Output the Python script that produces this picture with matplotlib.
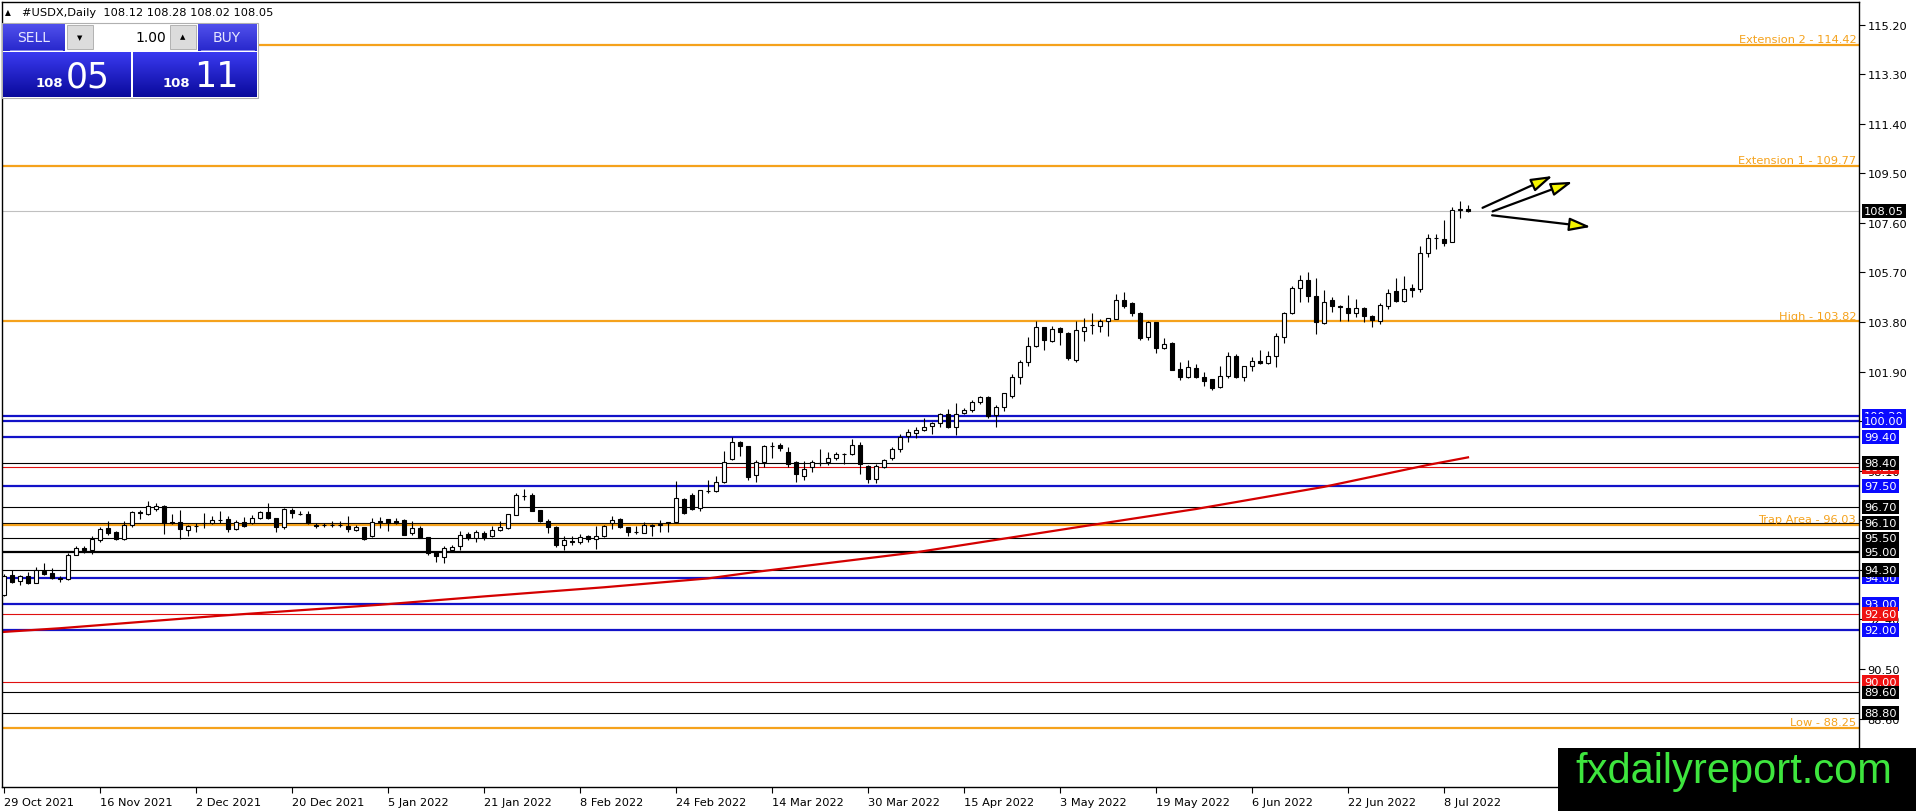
"""
#USDX daily chart with support / resistance levels, recreated in matplotlib.
"""
import numpy as np
import matplotlib
matplotlib.use("Agg")
import matplotlib.pyplot as plt
from matplotlib.patches import Rectangle, FancyArrowPatch
from matplotlib.transforms import blended_transform_factory

# ---- candles (one per trading day, 29 Oct 2021 .. 13 Jul 2022) ----
opens = [93.32, 94.10, 93.88, 94.05, 93.80, 94.27, 94.17, 94.00, 93.95, 94.88,
         95.15, 95.07, 95.45, 95.90, 95.75, 95.48, 96.00, 96.50, 96.45, 96.63,
         96.76, 96.12, 96.14, 95.84, 95.96, 96.10, 96.10, 96.20, 96.25, 95.86,
         96.14, 96.10, 96.30, 96.53, 96.27, 95.93, 96.60, 96.45, 96.45, 96.00,
         96.00, 96.03, 96.03, 95.99, 95.84, 95.93, 95.58, 96.17, 96.23, 96.17,
         96.22, 95.70, 95.92, 95.54, 94.97, 94.78, 95.07, 95.20, 95.67, 95.52,
         95.71, 95.58, 95.83, 95.90, 96.41, 97.14, 97.16, 96.59, 96.18, 95.95,
         95.26, 95.39, 95.35, 95.58, 95.48, 95.60, 96.08, 96.25, 95.93, 95.76,
         95.72, 95.97, 96.00, 96.12, 96.14, 97.01, 97.16, 96.66, 97.33, 97.33,
         97.65, 98.55, 99.19, 99.03, 97.93, 98.42, 99.03, 99.08, 98.82, 98.44,
         97.90, 98.23, 98.40, 98.42, 98.57, 98.74, 98.74, 99.08, 98.29, 97.78,
         98.25, 98.57, 98.93, 99.41, 99.54, 99.67, 99.82, 99.93, 100.27, 99.76,
         100.31, 100.44, 100.74, 100.91, 100.23, 100.53, 100.98, 101.68, 102.25, 102.89,
         103.59, 103.08, 103.57, 103.37, 102.35, 103.47, 103.69, 103.66, 103.83, 103.93,
         104.65, 104.51, 104.13, 103.22, 103.78, 102.79, 103.00, 101.99, 101.68, 102.02,
         101.68, 101.61, 101.29, 101.71, 102.48, 101.68, 102.10, 102.32, 102.23, 102.48,
         103.21, 104.13, 105.12, 105.42, 104.78, 103.76, 104.64, 104.40, 104.33, 104.14,
         104.33, 104.01, 103.85, 104.40, 104.99, 104.61, 105.10, 105.08, 106.44, 107.00,
         106.98, 106.88, 108.10, 108.12]
highs = [94.12, 94.29, 94.10, 94.20, 94.40, 94.55, 94.35, 94.05, 94.93, 95.20,
         95.20, 95.60, 95.95, 96.16, 95.80, 96.18, 96.55, 96.60, 96.92, 96.85,
         96.78, 96.44, 96.59, 96.00, 96.10, 96.46, 96.38, 96.55, 96.36, 96.20,
         96.34, 96.40, 96.57, 96.86, 96.30, 96.65, 96.66, 96.54, 96.54, 96.10,
         96.08, 96.16, 96.18, 96.36, 96.03, 95.95, 96.27, 96.34, 96.25, 96.27,
         96.25, 96.16, 95.98, 95.55, 95.00, 95.22, 95.25, 95.77, 95.73, 95.82,
         95.80, 95.96, 96.18, 96.45, 97.24, 97.40, 97.24, 96.60, 96.24, 95.97,
         95.60, 95.59, 95.67, 95.63, 95.97, 96.00, 96.37, 96.28, 95.95, 95.96,
         96.12, 96.06, 96.21, 96.14, 97.72, 97.04, 97.23, 97.37, 97.75, 97.88,
         98.84, 99.38, 99.25, 99.05, 98.52, 99.10, 99.21, 99.16, 98.99, 98.46,
         98.48, 98.50, 98.92, 98.80, 98.83, 98.77, 99.31, 99.21, 98.30, 98.36,
         98.55, 98.99, 99.50, 99.69, 99.76, 100.10, 99.98, 100.31, 100.46, 100.69,
         100.49, 100.82, 100.97, 100.97, 100.60, 101.08, 101.80, 102.35, 103.21, 103.85,
         103.62, 103.66, 103.62, 103.42, 103.85, 103.97, 104.14, 103.91, 103.96, 104.87,
         104.93, 104.58, 104.17, 103.85, 103.80, 103.17, 103.02, 102.25, 102.36, 102.19,
         101.87, 101.63, 102.10, 102.63, 102.57, 102.10, 102.44, 102.74, 102.70, 103.37,
         104.19, 105.19, 105.60, 105.70, 105.50, 105.04, 104.74, 104.45, 104.83, 104.68,
         104.36, 104.07, 104.52, 105.06, 105.47, 105.55, 105.26, 106.70, 107.17, 107.17,
         107.72, 108.19, 108.45, 108.28]
lows = [93.30, 93.79, 93.72, 93.75, 93.80, 94.10, 93.95, 93.85, 93.90, 94.85,
        94.95, 94.90, 95.37, 95.63, 95.45, 95.45, 95.95, 96.25, 96.40, 96.57,
        95.68, 96.05, 95.48, 95.60, 95.76, 95.90, 96.05, 96.10, 95.76, 95.84,
        95.95, 96.05, 96.25, 96.24, 95.76, 95.86, 96.27, 96.39, 96.05, 95.90,
        95.95, 95.95, 95.95, 95.74, 95.80, 95.45, 95.55, 95.90, 95.80, 96.05,
        95.62, 95.65, 95.50, 94.86, 94.58, 94.56, 95.03, 95.07, 95.44, 95.35,
        95.45, 95.55, 95.80, 95.87, 96.40, 96.97, 96.55, 96.15, 95.71, 95.18,
        95.05, 95.26, 95.30, 95.37, 95.10, 95.55, 95.86, 95.90, 95.60, 95.67,
        95.70, 95.60, 95.76, 95.76, 96.10, 96.45, 96.60, 96.56, 97.24, 97.27,
        97.62, 98.50, 98.68, 97.75, 97.65, 98.23, 98.57, 98.86, 98.23, 97.65,
        97.74, 98.06, 98.29, 98.31, 98.50, 98.35, 98.70, 97.97, 97.63, 97.63,
        98.22, 98.49, 98.80, 99.21, 99.34, 99.63, 99.50, 99.76, 99.73, 99.46,
        100.28, 100.36, 100.65, 100.10, 99.76, 100.40, 100.90, 101.42, 102.12, 102.85,
        102.73, 103.05, 102.93, 102.35, 102.28, 103.08, 103.34, 103.42, 103.27, 103.90,
        104.35, 104.04, 103.12, 103.12, 102.61, 102.75, 101.95, 101.59, 101.65, 101.66,
        101.36, 101.20, 101.27, 101.64, 101.66, 101.55, 101.93, 102.19, 102.19, 102.06,
        102.99, 104.10, 104.55, 104.58, 103.34, 103.74, 104.17, 103.85, 103.85, 103.98,
        103.81, 103.60, 103.72, 104.30, 104.55, 104.58, 104.74, 104.96, 106.28, 106.59,
        106.72, 106.85, 107.77, 108.02]
closes = [94.08, 93.85, 94.05, 93.80, 94.30, 94.15, 94.00, 93.95, 94.88, 95.15,
          95.05, 95.48, 95.87, 95.72, 95.47, 96.00, 96.50, 96.47, 96.76, 96.76,
          96.10, 96.10, 95.85, 95.97, 95.96, 96.08, 96.21, 96.22, 95.85, 96.12,
          95.99, 96.27, 96.50, 96.27, 95.93, 96.63, 96.47, 96.42, 96.08, 95.98,
          96.00, 96.02, 96.02, 95.86, 95.93, 95.48, 96.14, 96.15, 96.10, 96.10,
          95.65, 95.92, 95.52, 94.93, 94.82, 95.12, 95.19, 95.65, 95.52, 95.73,
          95.55, 95.82, 95.93, 96.43, 97.16, 97.14, 96.57, 96.18, 95.93, 95.26,
          95.45, 95.38, 95.54, 95.48, 95.60, 95.96, 96.20, 95.93, 95.76, 95.76,
          96.02, 96.00, 96.05, 96.10, 97.04, 96.46, 96.63, 97.36, 97.33, 97.65,
          98.45, 99.19, 99.03, 97.87, 98.44, 99.06, 99.03, 98.95, 98.35, 97.97,
          98.16, 98.42, 98.39, 98.57, 98.74, 98.74, 99.08, 98.35, 97.78, 98.27,
          98.49, 98.93, 99.40, 99.59, 99.67, 99.76, 99.92, 100.28, 99.76, 100.27,
          100.44, 100.74, 100.91, 100.21, 100.55, 101.07, 101.68, 102.28, 102.89, 103.59,
          103.12, 103.53, 103.40, 102.40, 103.50, 103.59, 103.69, 103.82, 103.94, 104.65,
          104.40, 104.13, 103.17, 103.81, 102.79, 102.95, 101.97, 101.68, 102.06, 101.68,
          101.55, 101.25, 101.71, 102.48, 101.68, 102.10, 102.32, 102.23, 102.48, 103.27,
          104.13, 105.12, 105.42, 104.78, 103.78, 104.55, 104.40, 104.39, 104.14, 104.33,
          104.04, 103.89, 104.45, 104.90, 104.61, 105.06, 105.04, 106.44, 107.00, 107.00,
          106.82, 108.10, 108.12, 108.05]

# date labels, one every 12 bars
date_labels = ["29 Oct 2021", "16 Nov 2021", "2 Dec 2021", "20 Dec 2021",
               "5 Jan 2022", "21 Jan 2022", "8 Feb 2022", "24 Feb 2022",
               "14 Mar 2022", "30 Mar 2022", "15 Apr 2022", "3 May 2022",
               "19 May 2022", "6 Jun 2022", "22 Jun 2022", "8 Jul 2022"]
price_ticks = [115.20, 113.30, 111.40, 109.50, 107.60, 105.70, 103.80, 101.90,
               100.00, 98.10, 96.20, 94.30, 92.40, 90.50, 88.60]

# ---- drawn levels ----
blue_levels = [100.20, 100.00, 99.40, 97.50, 94.00, 93.00, 92.00]
red_levels = [98.25, 92.60, 90.00]
black_levels = [98.40, 96.70, 96.10, 95.50, 95.00, 94.30, 89.60, 88.80]
orange_names = ["Extension 2", "Extension 1", "High", "Trap Area", "Low"]
orange_levels = [114.42, 109.77, 103.82, 96.03, 88.25]
last_price = 108.05

# red moving average line (bar index, value)
ma_bars = [0, 7, 27, 47, 60, 75, 88, 94, 114, 136, 149, 165, 178, 183]
ma_vals = [91.92, 92.06, 92.54, 92.96, 93.28, 93.63, 93.97, 94.22, 94.97,
           96.02, 96.63, 97.48, 98.32, 98.61]

# projection arrows: (start bar, start price, end bar, end price)
arrows = [(184.5, 108.13, 193.9, 109.44),
          (185.75, 108.00, 196.4, 109.21),
          (185.67, 107.90, 198.7, 107.43)]

BLUE = "#1212c8"
BLUE_BOX = "#0a0aff"
RED = "#e01010"
ORANGE = "#f5a21c"
FS = 8.2

W, H = 1916, 812
fig = plt.figure(figsize=(W / 100, H / 100), dpi=100)
fig.patch.set_facecolor("white")
ax = fig.add_axes([2 / W, 1 - 788 / H, 1857 / W, 785 / H])

n = len(closes)
x = np.arange(n)
o = np.array(opens)
c = np.array(closes)

# levels
for v in blue_levels:
    ax.axhline(v, color=BLUE, lw=1.6, zorder=1)
for v in red_levels:
    ax.axhline(v, color=RED, lw=0.8, zorder=1)
for v in black_levels:
    ax.axhline(v, color="black", lw=1.6 if v == 95.00 else 0.8, zorder=1)
for v in orange_levels:
    ax.axhline(v, color=ORANGE, lw=1.6, zorder=1)
ax.axhline(last_price, color="#c0c0c0", lw=0.8, zorder=1)

# moving average
ax.plot(ma_bars, ma_vals, color="#d40000", lw=1.6, zorder=2)

# candles
ax.vlines(x, lows, highs, color="black", lw=0.8, zorder=3)
fills = ["white" if cc >= oo else "black" for oo, cc in zip(o, c)]
ax.bar(x, np.abs(c - o), bottom=np.minimum(o, c), width=0.58, color=fills,
       edgecolor="black", linewidth=0.8, zorder=4)

# arrows
for x0, y0, x1, y1 in arrows:
    ar = FancyArrowPatch((x0, y0), (x1, y1),
                         arrowstyle="-|>,head_length=1.3,head_width=0.4",
                         mutation_scale=10, lw=1.6, ec="black", fc="#f4f400",
                         zorder=5)
    ax.add_patch(ar)

ax.set_xlim(-0.25, 231.875)
ax.set_ylim(85.975, 116.063)

# axes styling
for s in ax.spines.values():
    s.set_color("black")
    s.set_linewidth(1)
ax.yaxis.tick_right()
ax.set_yticks(price_ticks)
ax.set_yticklabels(["%.2f" % v for v in price_ticks])
ax.tick_params(axis="y", direction="out", length=4, width=0.8, pad=2,
               labelsize=FS, colors="black")
ax.set_xticks(range(0, 12 * len(date_labels), 12))
ax.set_xticklabels(date_labels)
ax.tick_params(axis="x", direction="out", length=4, width=0.8, pad=3,
               labelsize=FS)
for lbl in ax.get_xticklabels():
    lbl.set_horizontalalignment("left")

# orange level names
tr = blended_transform_factory(ax.transAxes, ax.transData)
for name, v in zip(orange_names, orange_levels):
    ax.text(0.9985, v + 0.11, "%s - %.2f" % (name, v), transform=tr,
            ha="right", va="baseline", fontsize=FS, color=ORANGE, zorder=6)

# price boxes on the right
def price_box(v, color):
    ax.text(1.0028, v, "%.2f" % v, transform=tr, ha="left", va="center",
            fontsize=FS, color="white", clip_on=False, zorder=7,
            bbox=dict(boxstyle="square,pad=0.16", fc=color, ec="none"))

for v in blue_levels:
    price_box(v, BLUE_BOX)
for v in red_levels:
    price_box(v, "#ee1111")
for v in black_levels:
    price_box(v, "black")
price_box(last_price, "black")

# ---- overlay in pixel coordinates: header, trade panel, watermark ----
ov = fig.add_axes([0, 0, 1, 1], zorder=10)
ov.set_xlim(0, W)
ov.set_ylim(H, 0)
ov.axis("off")
ov.patch.set_alpha(0)

ov.text(5, 13, "\u25B2", fontsize=5.5, va="center", ha="left")
ov.text(22, 13, "#USDX,Daily  108.12 108.28 108.02 108.05", fontsize=FS,
        va="center", ha="left")


def grad(x0, x1, y0, y1, top, bottom):
    t = np.array(matplotlib.colors.to_rgb(top))
    b = np.array(matplotlib.colors.to_rgb(bottom))
    k = np.linspace(0, 1, 40)[:, None]
    img = (t * (1 - k) + b * k)[:, None, :]
    ov.imshow(img, extent=(x0, x1, y1, y0), aspect="auto", origin="upper",
              interpolation="bilinear", zorder=1)


ov.add_patch(Rectangle((2, 24), 256, 75, fc="white", ec="#b0b0b0", lw=0.8,
                       zorder=0))
grad(3, 65, 25, 52, "#5050ec", "#2828cc")
grad(198, 257, 25, 52, "#5050ec", "#2828cc")
ov.plot([10, 62], [51, 51], color="#9a9af0", lw=0.6, zorder=2)
ov.plot([201, 254], [51, 51], color="#9a9af0", lw=0.6, zorder=2)
ov.text(34, 38, "SELL", fontsize=10, color="#e6e6ff", ha="center",
        va="center", zorder=3)
ov.text(227, 38, "BUY", fontsize=10, color="#e6e6ff", ha="center",
        va="center", zorder=3)
for bx in (67, 170):
    ov.add_patch(Rectangle((bx, 26), 26, 24, fc="#dcdcdc", ec="#a8a8a8",
                           lw=0.6, zorder=2))
ov.text(80, 38, "\u25BC", fontsize=5, ha="center", va="center", zorder=3)
ov.text(183, 37, "\u25B2", fontsize=5, ha="center", va="center", zorder=3)
ov.text(166, 38, "1.00", fontsize=10, ha="right", va="center", zorder=3)

grad(3, 131, 53, 98, "#3a3af0", "#0a0a9c")
grad(133, 257, 53, 98, "#3a3af0", "#0a0a9c")
ov.text(63, 87, "108", fontsize=9.5, fontweight="bold", color="white",
        ha="right", va="baseline", zorder=3)
ov.text(66, 87, "05", fontsize=25, color="white", ha="left", va="baseline",
        zorder=3)
ov.text(190, 87, "108", fontsize=9.5, fontweight="bold", color="white",
        ha="right", va="baseline", zorder=3)
ov.text(194, 87, "11", fontsize=25, color="white", ha="left", va="baseline",
        zorder=3)

# watermark
ov.add_patch(Rectangle((1558, 749), W - 1558, H - 749, fc="black", ec="none",
                       zorder=2))
ov.text(1575, 783, "fxdailyreport.com", fontsize=30, family="Liberation Sans",
        color="#3ee63e", ha="left", va="baseline", zorder=3)

fig.savefig("out.png", dpi=100)
